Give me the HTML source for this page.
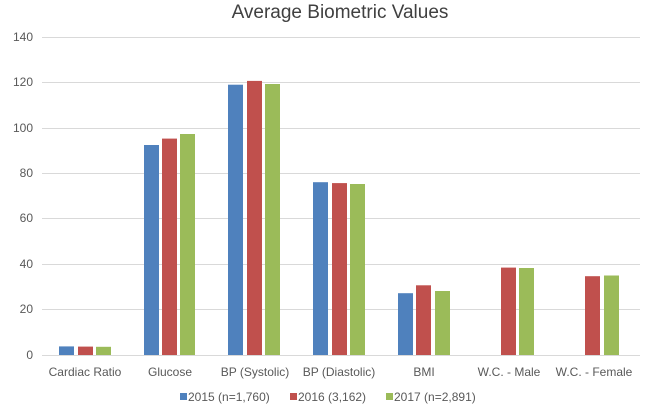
<!DOCTYPE html><html><head><style>body{margin:0;background:#fff}svg{display:block;font-family:"Liberation Sans",sans-serif}</style></head><body>
<svg width="660" height="412" viewBox="0 0 660 412">
<text x="340" y="18" text-anchor="middle" font-size="19" fill="#404040">Average Biometric Values</text>
<g stroke="#d9d9d9" stroke-width="1">
<line x1="42" x2="640" y1="37.5" y2="37.5"/><line x1="42" x2="640" y1="82.5" y2="82.5"/><line x1="42" x2="640" y1="128.5" y2="128.5"/><line x1="42" x2="640" y1="173.5" y2="173.5"/><line x1="42" x2="640" y1="218.5" y2="218.5"/><line x1="42" x2="640" y1="264.5" y2="264.5"/><line x1="42" x2="640" y1="309.5" y2="309.5"/><line x1="42" x2="640" y1="355.5" y2="355.5"/>
</g>
<g font-size="12" fill="#595959" text-anchor="end">
<text x="33" y="41">140</text><text x="33" y="86">120</text><text x="33" y="132">100</text><text x="33" y="177">80</text><text x="33" y="222">60</text><text x="33" y="268">40</text><text x="33" y="313">20</text><text x="33" y="359">0</text>
</g>
<g>
<rect x="59" y="346.4" width="15" height="8.6" fill="#4F81BD"/><rect x="78" y="346.6" width="15" height="8.4" fill="#C0504D"/><rect x="96" y="346.8" width="15" height="8.2" fill="#9BBB59"/>
<rect x="144" y="145" width="15" height="210" fill="#4F81BD"/><rect x="162" y="138.6" width="15" height="216.4" fill="#C0504D"/><rect x="180" y="134" width="15" height="221" fill="#9BBB59"/>
<rect x="228" y="84.7" width="15" height="270.3" fill="#4F81BD"/><rect x="247" y="80.9" width="15" height="274.1" fill="#C0504D"/><rect x="265" y="84" width="15" height="271" fill="#9BBB59"/>
<rect x="313" y="182.2" width="15" height="172.8" fill="#4F81BD"/><rect x="332" y="183.1" width="15" height="171.9" fill="#C0504D"/><rect x="350" y="184" width="15" height="171" fill="#9BBB59"/>
<rect x="398" y="293.2" width="15" height="61.8" fill="#4F81BD"/><rect x="416" y="285.3" width="15" height="69.7" fill="#C0504D"/><rect x="435" y="291" width="15" height="64" fill="#9BBB59"/>
<rect x="501" y="267.6" width="15" height="87.4" fill="#C0504D"/><rect x="519" y="268" width="15" height="87" fill="#9BBB59"/>
<rect x="585" y="276.2" width="15" height="78.8" fill="#C0504D"/><rect x="604" y="275.5" width="15" height="79.5" fill="#9BBB59"/>
</g>
<g font-size="12" fill="#595959" text-anchor="middle">
<text x="85" y="376">Cardiac Ratio</text><text x="170" y="376">Glucose</text><text x="255" y="376">BP (Systolic)</text><text x="339" y="376">BP (Diastolic)</text><text x="424" y="376">BMI</text><text x="509" y="376">W.C. - Male</text><text x="594" y="376">W.C. - Female</text>
</g>
<g font-size="12" fill="#595959">
<rect x="180" y="393" width="7" height="7" fill="#4F81BD"/><text x="188" y="401">2015 (n=1,760)</text>
<rect x="290" y="393" width="7" height="7" fill="#C0504D"/><text x="298" y="401">2016 (3,162)</text>
<rect x="386" y="393" width="7" height="7" fill="#9BBB59"/><text x="394" y="401">2017 (n=2,891)</text>
</g>
</svg></body></html>
